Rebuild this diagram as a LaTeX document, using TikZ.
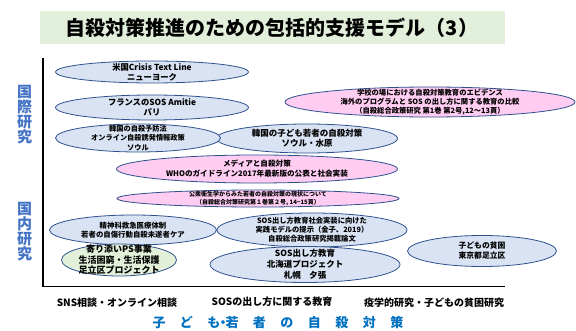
\documentclass[tikz,border=0pt]{standalone}
\usepackage{fontspec}
\setmainfont{Noto Sans CJK JP}
\usetikzlibrary{shapes.geometric}

\definecolor{titlegreen}{HTML}{E2EFDA}
\definecolor{ovalline}{HTML}{2F528F}
\definecolor{ovalblue}{HTML}{DAE3F3}
\definecolor{ovalpink}{HTML}{FFCCF2}
\definecolor{ovalgreen}{HTML}{E2F0D9}
\definecolor{sideblue}{HTML}{4472C4}
\definecolor{footblue}{HTML}{0070C0}

\tikzset{
  oval/.style={ellipse, draw=ovalline, line width=0.8pt, fill=#1, inner sep=0pt},
  fsz/.style 2 args={align=center, font=\fontsize{#1}{#2}\selectfont\bfseries},
}

\begin{document}
\begin{tikzpicture}[x=1pt,y=-1pt]
    \useasboundingbox (0,0) rectangle (576,331);

    % Title
    \fill[titlegreen] (40,11) rectangle (505,44);
    \node[fsz={20}{24}] (title) at (272,27.5) {自殺対策推進のための包括的支援モデル（3）};

    % Axes
    \draw[line width=1.3pt] (43,58) -- (43,286.5) -- (505,286.5);

    % Side labels
    \node[fsz={15}{15}, text=sideblue] (intl) at (24.5,115) {国\\際\\研\\究};
    \node[fsz={15}{15}, text=sideblue] (dom) at (24.5,232) {国\\内\\研\\究};

    % International
    \node[oval=ovalblue, minimum width=193pt, minimum height=22pt,
      label={[fsz={8.3}{10}]center:{米国Crisis Text Line\\ニューヨーク}}] (usa) at (152,72) {};
    \node[oval=ovalblue, minimum width=193pt, minimum height=25pt,
      label={[fsz={8.3}{10}]center:{フランスのSOS Amitie\\パリ}}] (france) at (152,107.5) {};
    \node[oval=ovalblue, minimum width=181pt, minimum height=29pt,
      label={[fsz={8.5}{10}]center:{韓国の子ども若者の自殺対策\\ソウル・水原}}] (korea2) at (307,138.5) {};
    \node[oval=ovalblue, minimum width=165pt, minimum height=28pt,
      label={[fsz={7.2}{9.5}]center:{韓国の自殺予防法\\オンライン自殺誘発情報政策\\ソウル}}] (korea1) at (138,138) {};
    \node[oval=ovalpink, minimum width=290pt, minimum height=30pt,
      label={[fsz={7.3}{9}]center:{学校の場における自殺対策教育のエビデンス\\海外のプログラムと SOS の出し方に関する教育の比較\\（自殺総合政策研究 第1巻 第2号,12～13頁）}}] (school) at (430,102) {};

    % Domestic
    \node[oval=ovalpink, minimum width=281pt, minimum height=28pt,
      label={[fsz={7.6}{10}]center:{メディアと自殺対策\\WHOのガイドライン2017年最新版の公表と社会実装}}] (media) at (257,169) {};
    \node[oval=ovalpink, minimum width=282pt, minimum height=17pt,
      label={[fsz={6}{8}]center:{公衆衛生学からみた若者の自殺対策の現状について\\（自殺総合対策研究第１巻第２号, 14−15頁）}}] (public) at (258,198.5) {};
    \node[oval=ovalblue, minimum width=190pt, minimum height=34pt,
      label={[fsz={7.3}{9}]center:{SOS出し方教育社会実装に向けた\\実践モデルの提示（金子、2019）\\自殺総合政策研究掲載論文}}] (model) at (312,230) {};
    \node[oval=ovalblue, minimum width=167pt, minimum height=30pt,
      label={[fsz={7.4}{9.5}]center:{精神科救急医療体制\\若者の自傷行動自殺未遂者ケア}}] (psych) at (133,230) {};
    \node[oval=ovalblue, minimum width=190pt, minimum height=36pt,
      label={[fsz={8.5}{10.8}]center:{SOS出し方教育\\北海道プロジェクト\\札幌　夕張}}] (hokkaido) at (305,264.5) {};
    \node[oval=ovalgreen, minimum width=115pt, minimum height=32pt,
      label={[fsz={9}{10.5}]center:{寄り添いPS事業\\生活困窮・生活保護\\足立区プロジェクト}}] (adachi) at (119,260) {};
    \node[oval=ovalblue, minimum width=149pt, minimum height=31pt,
      label={[fsz={7.8}{10}]center:{子どもの貧困\\東京都足立区}}] (poverty) at (482,251) {};

    % Categories
    \node[fsz={10}{12}] (sns) at (117,303) {SNS相談・オンライン相談};
    \node[fsz={10}{12}] (sos) at (272,302) {SOSの出し方に関する教育};
    \node[fsz={10}{12}] (epi) at (434,303) {疫学的研究・子どもの貧困研究};
    \node[fsz={13}{14}, text=footblue] (youth) at (278,323)
      {子\hspace{14.5pt}ど\hspace{14.5pt}も\hspace{-4pt}・\hspace{-4pt}若\hspace{14.5pt}者\hspace{14.5pt}の\hspace{14.5pt}自\hspace{14.5pt}殺\hspace{14.5pt}対\hspace{14.5pt}策};

\end{tikzpicture}
\end{document}
